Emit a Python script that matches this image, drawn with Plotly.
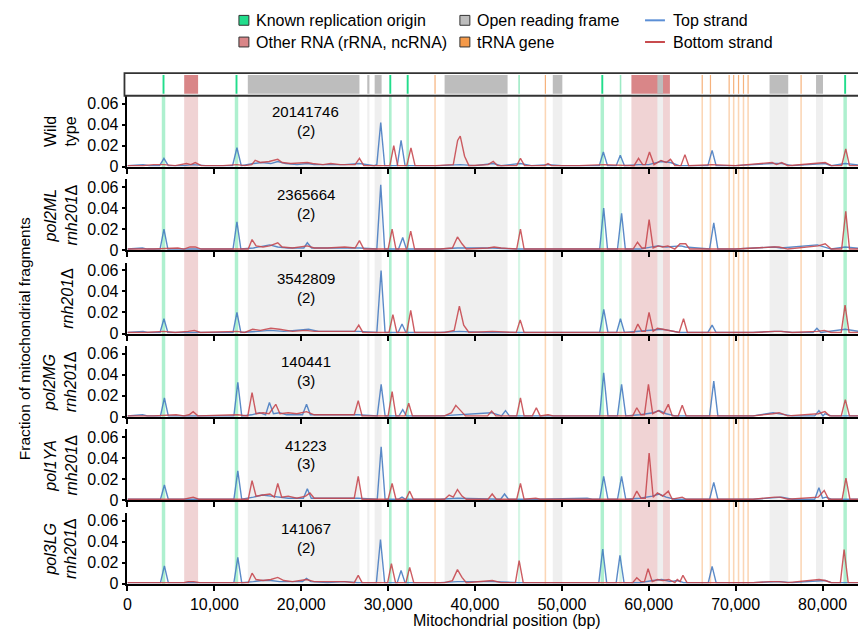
import plotly.graph_objects as go

# browser window and page offset (the page body has an 8 px margin)
WIN_W, WIN_H = 866, 642
OFF = 8
W, H = WIN_W - OFF, WIN_H - OFF
X_MAX = 85000

# ---------------- data ----------------
SAMPLE_LABELS = ["Wild<br>type",
                 "<i>pol2ML</i><br><i>rnh201</i>Δ",
                 "<i>rnh201</i>Δ",
                 "<i>pol2MG</i><br><i>rnh201</i>Δ",
                 "<i>pol1YA</i><br><i>rnh201</i>Δ",
                 "<i>pol3LG</i><br><i>rnh201</i>Δ"]
FRAGMENT_COUNTS = ["20141746", "2365664", "3542809", "140441", "41223", "141067"]
REPLICATES = ["(2)", "(2)", "(2)", "(3)", "(3)", "(2)"]

X_TICKS = [0, 10000, 20000, 30000, 40000, 50000, 60000, 70000, 80000]
X_TICK_LABELS = ["0", "10,000", "20,000", "30,000", "40,000", "50,000", "60,000", "70,000", "80,000"]
Y_TICKS = [0, 0.02, 0.04, 0.06]
Y_TICK_LABELS = ["0", "0.02", "0.04", "0.06"]

# genome features (bp)
ORIGINS = [(3950, 4350), (12350, 12750), (30100, 30400), (32100, 32400), (54450, 54850), (82400, 82800)]
ORIGINS_WEAK = [(44950, 45200), (56600, 56900)]
OTHER_RNA = [(6530, 8130), (58000, 62430)]
ORFS = [(13850, 26700), (27600, 27850), (28450, 29250), (36500, 43750), (48950, 50050),
        (60990, 61640), (73900, 76050), (79250, 80050)]
TRNA_GENES = [35400, 48100, 66150, 67100, 69250, 69770, 70330, 70900, 71430, 77530]

# fragment fractions: (position, fraction) per strand per sample
WT_TOP_X = [0, 1800, 2500, 3700, 4200, 4700, 6500, 7500, 9000, 12100, 12600, 13100, 14500, 15500, 16500, 17300, 18200, 19500, 20700, 21500, 23400, 25000, 26700, 28400, 28700, 29150, 29600, 30500, 31050, 31490, 31950, 33000, 36000, 38300, 40000, 42100, 43000, 45200, 46500, 48400, 50000, 52000, 54300, 54770, 55250, 56250, 56720, 57200, 58800, 60000, 61400, 62500, 63500, 66800, 67290, 67750, 70000, 74200, 75300, 76500, 79500, 80300, 81000, 82600, 85000]
WT_TOP_Y = [0.001, 0.002, 0.001, 0.001, 0.008, 0.001, 0.001, 0.002, 0.001, 0.001, 0.018, 0.001, 0.003, 0.004, 0.003, 0.005, 0.003, 0.002, 0.003, 0.002, 0.002, 0.002, 0.003, 0.001, 0.002, 0.042, 0.001, 0.001, 0.001, 0.025, 0.001, 0.001, 0.001, 0.002, 0.001, 0.003, 0.001, 0.003, 0.001, 0.002, 0.001, 0.001, 0.001, 0.014, 0.001, 0.001, 0.011, 0.001, 0.002, 0.002, 0.005, 0.004, 0.001, 0.001, 0.0155, 0.001, 0.001, 0.003, 0.003, 0.001, 0.003, 0.003, 0.001, 0.003, 0.001]
WT_BOT_X = [0, 1800, 3000, 4200, 5500, 6800, 7300, 7800, 8500, 11000, 12600, 13500, 14300, 14700, 15300, 16300, 17300, 17800, 18800, 20000, 20700, 21300, 22500, 23400, 24500, 26200, 26700, 27200, 29000, 30200, 30650, 31100, 32150, 32630, 33100, 35500, 37500, 38000, 38300, 38800, 39300, 41500, 42100, 42600, 44800, 45230, 45700, 48000, 48400, 48800, 52000, 54800, 58300, 58820, 59300, 59600, 60080, 60600, 61400, 62000, 62500, 63000, 63700, 64160, 64600, 67300, 70000, 74200, 74700, 75300, 76000, 79500, 80300, 81000, 82200, 82670, 83100, 85000]
WT_BOT_Y = [0.001, 0.001, 0.002, 0.002, 0.001, 0.003, 0.002, 0.004, 0.001, 0.001, 0.002, 0.001, 0.002, 0.006, 0.004, 0.005, 0.007, 0.004, 0.003, 0.004, 0.004, 0.003, 0.002, 0.003, 0.002, 0.002, 0.008, 0.001, 0.001, 0.001, 0.02, 0.001, 0.001, 0.018, 0.001, 0.001, 0.002, 0.025, 0.029, 0.01, 0.001, 0.002, 0.005, 0.001, 0.001, 0.008, 0.001, 0.001, 0.003, 0.001, 0.001, 0.002, 0.001, 0.008, 0.002, 0.002, 0.014, 0.002, 0.006, 0.004, 0.007, 0.001, 0.001, 0.0115, 0.001, 0.002, 0.001, 0.004, 0.002, 0.004, 0.001, 0.003, 0.004, 0.001, 0.001, 0.017, 0.001, 0.001]

ML_TOP_X = [0, 1720, 2300, 3750, 4200, 4650, 8000, 12150, 12600, 13050, 14500, 16360, 17300, 18500, 20300, 20700, 21200, 23000, 25000, 26700, 28700, 29150, 29600, 31200, 31680, 32100, 36000, 38000, 42000, 45000, 48000, 52900, 54350, 54810, 55250, 56400, 56870, 57300, 59000, 61000, 62000, 63700, 64200, 67000, 67480, 67950, 70000, 74500, 75200, 79400, 80200, 81000, 82600, 85000]
ML_TOP_Y = [0.001, 0.002, 0.001, 0.001, 0.02, 0.001, 0.001, 0.001, 0.027, 0.001, 0.002, 0.005, 0.003, 0.002, 0.002, 0.007, 0.002, 0.002, 0.002, 0.002, 0.001, 0.062, 0.001, 0.001, 0.012, 0.001, 0.001, 0.002, 0.002, 0.001, 0.001, 0.001, 0.001, 0.04, 0.001, 0.001, 0.035, 0.001, 0.001, 0.004, 0.003, 0.004, 0.003, 0.001, 0.026, 0.001, 0.001, 0.003, 0.002, 0.005, 0.003, 0.001, 0.003, 0.001]
ML_BOT_X = [0, 3000, 5800, 6500, 7200, 7800, 8500, 12600, 13900, 14340, 14800, 15600, 16360, 17300, 17800, 19000, 20700, 21500, 23000, 25000, 26200, 26700, 27200, 29500, 30000, 30460, 30900, 32150, 32600, 33050, 36000, 37400, 37980, 38500, 39000, 41500, 42200, 43000, 44800, 45230, 45650, 48000, 51260, 54000, 58200, 58700, 59200, 59600, 60040, 60500, 61100, 61600, 62200, 63000, 63600, 64250, 64700, 66000, 70000, 74300, 75000, 76000, 79500, 80300, 81000, 82200, 82670, 83100, 85000]
ML_BOT_Y = [0.001, 0.001, 0.002, 0.001, 0.003, 0.003, 0.001, 0.001, 0.001, 0.01, 0.004, 0.003, 0.004, 0.007, 0.003, 0.002, 0.004, 0.002, 0.002, 0.003, 0.002, 0.009, 0.001, 0.001, 0.001, 0.02, 0.001, 0.001, 0.018, 0.001, 0.001, 0.002, 0.0125, 0.006, 0.001, 0.002, 0.003, 0.002, 0.001, 0.02, 0.001, 0.001, 0.001, 0.001, 0.001, 0.0075, 0.002, 0.002, 0.029, 0.002, 0.004, 0.003, 0.004, 0.001, 0.006, 0.006, 0.001, 0.001, 0.001, 0.003, 0.003, 0.001, 0.004, 0.006, 0.001, 0.001, 0.037, 0.001, 0.001]

RNH_TOP_X = [0, 1800, 2300, 3750, 4200, 4650, 8000, 12150, 12600, 13050, 15000, 16400, 18000, 20840, 22000, 25000, 26600, 28700, 29190, 29650, 31150, 31600, 32050, 36000, 38200, 41000, 45000, 49000, 54350, 54820, 55300, 56300, 56740, 57200, 59000, 60500, 61500, 62300, 63500, 66800, 67290, 67750, 72000, 74500, 75300, 76500, 78900, 79350, 79800, 82600, 85000]
RNH_TOP_Y = [0.001, 0.002, 0.001, 0.001, 0.014, 0.001, 0.001, 0.001, 0.02, 0.001, 0.002, 0.003, 0.002, 0.004, 0.002, 0.002, 0.002, 0.001, 0.06, 0.001, 0.001, 0.009, 0.001, 0.001, 0.002, 0.001, 0.001, 0.001, 0.001, 0.023, 0.001, 0.001, 0.014, 0.001, 0.002, 0.003, 0.004, 0.003, 0.001, 0.001, 0.008, 0.001, 0.001, 0.002, 0.002, 0.001, 0.001, 0.005, 0.001, 0.004, 0.001]
RNH_BOT_X = [0, 2000, 4200, 5500, 7000, 7700, 8400, 12600, 13500, 14400, 15300, 16500, 17500, 19000, 20500, 21500, 23500, 25500, 26150, 26620, 27100, 30100, 30550, 31000, 32150, 32600, 33050, 36500, 37600, 38200, 38700, 39300, 42000, 44750, 45200, 45650, 49000, 52000, 58300, 58740, 59200, 59600, 60030, 60500, 61000, 61600, 62300, 63500, 64000, 64450, 67000, 72000, 74500, 75200, 76500, 79400, 80200, 81000, 82150, 82590, 83050, 85000]
RNH_BOT_Y = [0.001, 0.001, 0.002, 0.001, 0.002, 0.003, 0.001, 0.002, 0.001, 0.004, 0.003, 0.005, 0.004, 0.002, 0.003, 0.002, 0.002, 0.002, 0.002, 0.008, 0.001, 0.001, 0.018, 0.001, 0.001, 0.022, 0.001, 0.001, 0.003, 0.026, 0.008, 0.001, 0.002, 0.001, 0.013, 0.001, 0.001, 0.001, 0.001, 0.009, 0.002, 0.002, 0.02, 0.002, 0.005, 0.004, 0.003, 0.001, 0.014, 0.001, 0.001, 0.001, 0.002, 0.002, 0.001, 0.002, 0.003, 0.001, 0.001, 0.027, 0.001, 0.001]

MG_TOP_X = [0, 1730, 2300, 3800, 4250, 4700, 5600, 8000, 12250, 12700, 13150, 14300, 15200, 15900, 16340, 16800, 17500, 18300, 19500, 20150, 20610, 21050, 22500, 24500, 26500, 28750, 29200, 29650, 31250, 31680, 32100, 36000, 38000, 41900, 43050, 43510, 43950, 47000, 51400, 54350, 54810, 55300, 56400, 56870, 57350, 59000, 60500, 61200, 62000, 63000, 67000, 67480, 67950, 72000, 74300, 75100, 76500, 79100, 79580, 80050, 80270, 81000, 85000]
MG_TOP_Y = [0.001, 0.002, 0.001, 0.001, 0.018, 0.001, 0.001, 0.001, 0.001, 0.033, 0.001, 0.002, 0.004, 0.002, 0.0137, 0.003, 0.004, 0.002, 0.002, 0.002, 0.012, 0.002, 0.002, 0.002, 0.002, 0.001, 0.031, 0.001, 0.001, 0.007, 0.001, 0.001, 0.002, 0.004, 0.001, 0.006, 0.001, 0.001, 0.001, 0.001, 0.042, 0.001, 0.001, 0.031, 0.001, 0.002, 0.004, 0.006, 0.003, 0.001, 0.001, 0.034, 0.001, 0.001, 0.004, 0.003, 0.001, 0.001, 0.006, 0.001, 0.003, 0.001, 0.001]
MG_BOT_X = [0, 3000, 5600, 6500, 7100, 7560, 8100, 12700, 13850, 14340, 14800, 15600, 16300, 17070, 17550, 18500, 19500, 20610, 21500, 23000, 25000, 26100, 26560, 27000, 30000, 30460, 30900, 31950, 32370, 32800, 36500, 37300, 37790, 38300, 38900, 41450, 41910, 42400, 44800, 45230, 45650, 46600, 47060, 47500, 48400, 49000, 55000, 58150, 58620, 59100, 59500, 59960, 60450, 61100, 61700, 62250, 62700, 63400, 63850, 64300, 67000, 72000, 74300, 75000, 76000, 79500, 80270, 80800, 82150, 82620, 83100, 85000]
MG_BOT_Y = [0.001, 0.001, 0.002, 0.001, 0.002, 0.005, 0.001, 0.002, 0.001, 0.023, 0.003, 0.004, 0.003, 0.012, 0.003, 0.004, 0.003, 0.005, 0.002, 0.002, 0.002, 0.002, 0.0155, 0.001, 0.001, 0.024, 0.001, 0.001, 0.013, 0.001, 0.001, 0.004, 0.011, 0.006, 0.001, 0.001, 0.0056, 0.001, 0.001, 0.018, 0.001, 0.001, 0.0087, 0.001, 0.002, 0.001, 0.001, 0.001, 0.0087, 0.002, 0.002, 0.031, 0.003, 0.006, 0.003, 0.012, 0.001, 0.001, 0.011, 0.001, 0.001, 0.001, 0.003, 0.004, 0.001, 0.003, 0.005, 0.001, 0.001, 0.0165, 0.001, 0.001]

YA_TOP_X = [0, 1730, 3800, 4250, 4700, 8000, 12250, 12700, 13150, 14500, 15500, 16500, 17500, 18500, 20250, 20700, 21150, 23000, 25000, 26500, 28750, 29200, 29650, 31150, 31600, 32000, 36000, 38000, 42950, 43400, 43850, 47000, 52900, 53500, 54350, 54810, 55300, 56400, 56870, 57350, 59000, 60400, 61200, 62000, 63000, 67000, 67480, 67950, 72000, 74500, 75300, 76500, 79100, 79580, 80000, 80400, 81000, 85000]
YA_TOP_Y = [0.001, 0.001, 0.001, 0.0146, 0.001, 0.001, 0.001, 0.028, 0.001, 0.003, 0.005, 0.004, 0.003, 0.002, 0.002, 0.011, 0.002, 0.002, 0.002, 0.002, 0.001, 0.051, 0.001, 0.001, 0.003, 0.001, 0.001, 0.002, 0.001, 0.006, 0.001, 0.001, 0.002, 0.001, 0.001, 0.0227, 0.001, 0.001, 0.0227, 0.001, 0.002, 0.004, 0.006, 0.003, 0.001, 0.001, 0.017, 0.001, 0.001, 0.002, 0.003, 0.001, 0.001, 0.012, 0.002, 0.003, 0.001, 0.001]
YA_BOT_X = [0, 3000, 6500, 7560, 8200, 12700, 13900, 14340, 14800, 15600, 16400, 16900, 17300, 17750, 18500, 19500, 20500, 21000, 21500, 23000, 25000, 26100, 26560, 27000, 30000, 30460, 30900, 32050, 32480, 32900, 36500, 37020, 37500, 37980, 38500, 39000, 41500, 41980, 42450, 44800, 45230, 45650, 47000, 47500, 55000, 58150, 58620, 59100, 59600, 60040, 60500, 61000, 61600, 62250, 62700, 63850, 64300, 67000, 72000, 74500, 75100, 76000, 79500, 80190, 80700, 82250, 82690, 83150, 85000]
YA_BOT_Y = [0.001, 0.001, 0.001, 0.003, 0.001, 0.001, 0.001, 0.0187, 0.004, 0.005, 0.006, 0.003, 0.016, 0.003, 0.004, 0.002, 0.004, 0.007, 0.002, 0.002, 0.002, 0.002, 0.0227, 0.001, 0.001, 0.016, 0.001, 0.001, 0.0087, 0.001, 0.001, 0.005, 0.003, 0.0103, 0.004, 0.001, 0.001, 0.006, 0.001, 0.001, 0.016, 0.001, 0.002, 0.001, 0.001, 0.001, 0.0087, 0.002, 0.002, 0.045, 0.003, 0.007, 0.004, 0.0087, 0.001, 0.003, 0.001, 0.001, 0.001, 0.003, 0.003, 0.001, 0.003, 0.0094, 0.001, 0.001, 0.021, 0.001, 0.001]

LG_TOP_X = [0, 1730, 3800, 4250, 4700, 8000, 12250, 12700, 13150, 14500, 15500, 16500, 17500, 19000, 20150, 20610, 21100, 23000, 25000, 26500, 28650, 29120, 29600, 31050, 31490, 31950, 36000, 38000, 42000, 45000, 49000, 54250, 54700, 55150, 56250, 56680, 57150, 59000, 60500, 61500, 62500, 63280, 64000, 66850, 67290, 67750, 72000, 74000, 75000, 76500, 79500, 80300, 81000, 85000]
LG_TOP_Y = [0.001, 0.001, 0.001, 0.017, 0.001, 0.001, 0.001, 0.025, 0.001, 0.002, 0.003, 0.003, 0.002, 0.002, 0.002, 0.005, 0.002, 0.001, 0.002, 0.001, 0.001, 0.042, 0.001, 0.001, 0.0125, 0.001, 0.001, 0.002, 0.002, 0.001, 0.001, 0.001, 0.033, 0.001, 0.001, 0.027, 0.001, 0.001, 0.003, 0.004, 0.002, 0.003, 0.001, 0.001, 0.0165, 0.001, 0.001, 0.002, 0.002, 0.001, 0.003, 0.003, 0.001, 0.001]
LG_BOT_X = [0, 3000, 6500, 7000, 7600, 8300, 12700, 13900, 14340, 14800, 15600, 16500, 17300, 18000, 19000, 20600, 21500, 23000, 25000, 26100, 26560, 27000, 29950, 30380, 30850, 32050, 32480, 32950, 36500, 37400, 37980, 38500, 39000, 42000, 43000, 44650, 45080, 45550, 47000, 55000, 58150, 58620, 59100, 59500, 59920, 60400, 61000, 61600, 62300, 63000, 63280, 63600, 63930, 64400, 67000, 72000, 74000, 75000, 76000, 79600, 80300, 81000, 82050, 82480, 82950, 85000]
LG_BOT_Y = [0.001, 0.001, 0.001, 0.002, 0.002, 0.001, 0.001, 0.001, 0.01, 0.004, 0.003, 0.004, 0.006, 0.003, 0.002, 0.004, 0.002, 0.002, 0.002, 0.001, 0.008, 0.001, 0.001, 0.019, 0.001, 0.001, 0.0155, 0.001, 0.001, 0.003, 0.0134, 0.006, 0.001, 0.003, 0.001, 0.001, 0.022, 0.001, 0.001, 0.001, 0.001, 0.0056, 0.002, 0.002, 0.0143, 0.002, 0.004, 0.003, 0.004, 0.001, 0.004, 0.002, 0.008, 0.001, 0.001, 0.001, 0.002, 0.002, 0.001, 0.004, 0.003, 0.001, 0.001, 0.0324, 0.001, 0.001]

TOP_SERIES = [(WT_TOP_X, WT_TOP_Y), (ML_TOP_X, ML_TOP_Y), (RNH_TOP_X, RNH_TOP_Y),
              (MG_TOP_X, MG_TOP_Y), (YA_TOP_X, YA_TOP_Y), (LG_TOP_X, LG_TOP_Y)]
BOT_SERIES = [(WT_BOT_X, WT_BOT_Y), (ML_BOT_X, ML_BOT_Y), (RNH_BOT_X, RNH_BOT_Y),
              (MG_BOT_X, MG_BOT_Y), (YA_BOT_X, YA_BOT_Y), (LG_BOT_X, LG_BOT_Y)]

# ---------------- styling / layout (positions in window pixels) ----------------
FONT = "Liberation Sans, Arial, sans-serif"
BLUE = "rgba(68,122,192,0.88)"
RED = "rgba(198,70,76,0.88)"
X_LEFT_PX = 124
TRACK_TOP_PX, TRACK_BOT_PX = 74, 97
ZERO0_PX, PANEL_STEP_PX, PANEL_H_PX = 169, 84.6, 72
Y_MAX = 0.0675


def py(p):
    return 1 - (p - OFF) / H


def px(p):
    return (p - OFF) / W


XL = px(X_LEFT_PX)
fig = go.Figure()
layout = dict(width=W, height=H, margin=dict(l=0, r=0, t=0, b=0),
              paper_bgcolor="white", plot_bgcolor="rgba(0,0,0,0)", showlegend=False,
              font=dict(family=FONT, size=16, color="black"))

layout["xaxis"] = dict(domain=[XL, 1], range=[0, X_MAX], visible=False, anchor="y")
layout["yaxis"] = dict(domain=[py(TRACK_BOT_PX), py(TRACK_TOP_PX)], range=[0, 1], visible=False, anchor="x")
fig.add_trace(go.Scatter(x=[0], y=[0], xaxis="x", yaxis="y", mode="markers",
                         marker=dict(opacity=0), hoverinfo="skip"))

zeros = [ZERO0_PX + PANEL_STEP_PX * i for i in range(6)]
annotations = []
for i, z in enumerate(zeros):
    xa, ya = f"xaxis{i + 2}", f"yaxis{i + 2}"
    layout[xa] = dict(domain=[XL, 1], range=[0, X_MAX], anchor=f"y{i + 2}", matches="x",
                      showline=True, linecolor="black", linewidth=2, ticks="outside",
                      ticklen=5, tickwidth=1.5, tickcolor="black",
                      tickvals=X_TICKS, ticktext=X_TICK_LABELS, showticklabels=(i == 5),
                      tickfont=dict(size=16), showgrid=False, zeroline=False)
    layout[ya] = dict(domain=[py(z), py(z - PANEL_H_PX)], range=[0, Y_MAX], anchor=f"x{i + 2}",
                      showline=True, linecolor="black", linewidth=1.5, ticks="outside",
                      ticklen=4, tickwidth=1.5, tickcolor="black",
                      tickvals=Y_TICKS, ticktext=Y_TICK_LABELS, tickfont=dict(size=16),
                      showgrid=False, zeroline=False)
    tx, ty = TOP_SERIES[i]
    bx, by = BOT_SERIES[i]
    fig.add_trace(go.Scatter(x=tx, y=ty, xaxis=f"x{i + 2}", yaxis=f"y{i + 2}", mode="lines",
                             line=dict(color=BLUE, width=1.4), hoverinfo="skip"))
    fig.add_trace(go.Scatter(x=bx, y=by, xaxis=f"x{i + 2}", yaxis=f"y{i + 2}", mode="lines",
                             line=dict(color=RED, width=1.4), hoverinfo="skip"))
    # counts
    annotations.append(dict(x=20500, y=py(z - 56), xref="x", yref="paper", text=FRAGMENT_COUNTS[i],
                            showarrow=False, font=dict(size=15), xanchor="center", yanchor="middle"))
    annotations.append(dict(x=20500, y=py(z - 37), xref="x", yref="paper", text=REPLICATES[i],
                            showarrow=False, font=dict(size=15), xanchor="center", yanchor="middle"))
    # sample label
    two = "<br>" in SAMPLE_LABELS[i]
    annotations.append(dict(x=px(57 if two else 63), y=py(z - 36), xref="paper", yref="paper",
                            text=SAMPLE_LABELS[i], textangle=-90, showarrow=False,
                            font=dict(size=16), xanchor="center", yanchor="middle"))

annotations.append(dict(x=px(20), y=py(343), xref="paper", yref="paper",
                        text="Fraction of mitochondrial fragments", textangle=-90,
                        showarrow=False, font=dict(size=15.5), xanchor="center", yanchor="middle"))
annotations.append(dict(x=px(505), y=py(629), xref="paper", yref="paper",
                        text="Mitochondrial position (bp)", showarrow=False,
                        font=dict(size=16), xanchor="center", yanchor="middle"))

shapes = []
P_TOP, P_BOT = py(zeros[0] - PANEL_H_PX), py(zeros[-1])


def band(x0, x1, color, y0=P_BOT, y1=P_TOP, layer="below"):
    shapes.append(dict(type="rect", xref="x", yref="paper", x0=x0, x1=x1, y0=y0, y1=y1,
                       fillcolor=color, line=dict(width=0), layer=layer))


# light panel shading
for a, b in OTHER_RNA:
    band(a, b, "#f0d3d4")
for a, b in ORFS:
    band(a, b, "#efefef")
for t in TRNA_GENES:
    band(t - 90, t + 90, "#fbd6b6")
for a, b in ORIGINS:
    band(a, b, "#aef0cf")
for a, b in ORIGINS_WEAK:
    band(a, b, "#d6f6e6")

# annotation track
T0, T1 = py(TRACK_BOT_PX - 2), py(TRACK_TOP_PX + 2)
for a, b in OTHER_RNA:
    band(a, b, "#d98688", T0, T1, "above")
for a, b in ORFS:
    band(a, b, "#bdbdbd", T0, T1, "above")
for t in TRNA_GENES:
    band(t - 70, t + 70, "#f6b27c", T0, T1, "above")
for a, b in ORIGINS:
    c = (a + b) / 2
    band(c - 110, c + 110, "#22dd8c", T0, T1, "above")
for a, b in ORIGINS_WEAK:
    c = (a + b) / 2
    band(c - 90, c + 90, "#9ceac4", T0, T1, "above")
shapes.append(dict(type="rect", xref="paper", yref="paper", x0=px(X_LEFT_PX - 3), x1=1.01,
                   y0=py(TRACK_BOT_PX), y1=py(TRACK_TOP_PX), line=dict(color="#333333", width=1.8),
                   fillcolor="rgba(0,0,0,0)", layer="above"))

# legend
LEG = [("sq", "#22dd8c", "Known replication origin", 236, 20.5),
       ("sq", "#d98688", "Other RNA (rRNA, ncRNA)", 236, 42.5),
       ("sq", "#bdbdbd", "Open reading frame", 458, 20.5),
       ("sq", "#f59a4a", "tRNA gene", 458, 42.5),
       ("ln", "#5b8fd6", "Top strand", 644, 20.5),
       ("ln", "#c84b4e", "Bottom strand", 644, 42.5)]
for kind, col, txt, lx, ly in LEG:
    if kind == "sq":
        shapes.append(dict(type="rect", xref="paper", yref="paper", x0=px(lx), x1=px(lx + 10),
                           y0=py(ly + 5), y1=py(ly - 5), fillcolor=col,
                           line=dict(color="#333333", width=1), layer="above"))
        tx = lx + 15
    else:
        shapes.append(dict(type="line", xref="paper", yref="paper", x0=px(lx), x1=px(lx + 20),
                           y0=py(ly), y1=py(ly), line=dict(color=col, width=2), layer="above"))
        tx = lx + 26
    annotations.append(dict(x=px(tx), y=py(ly), xref="paper", yref="paper", text=txt,
                            showarrow=False, font=dict(size=16), xanchor="left", yanchor="middle"))

layout["shapes"] = shapes
layout["annotations"] = annotations
fig.update_layout(**layout)
fig.write_html("out.html")
